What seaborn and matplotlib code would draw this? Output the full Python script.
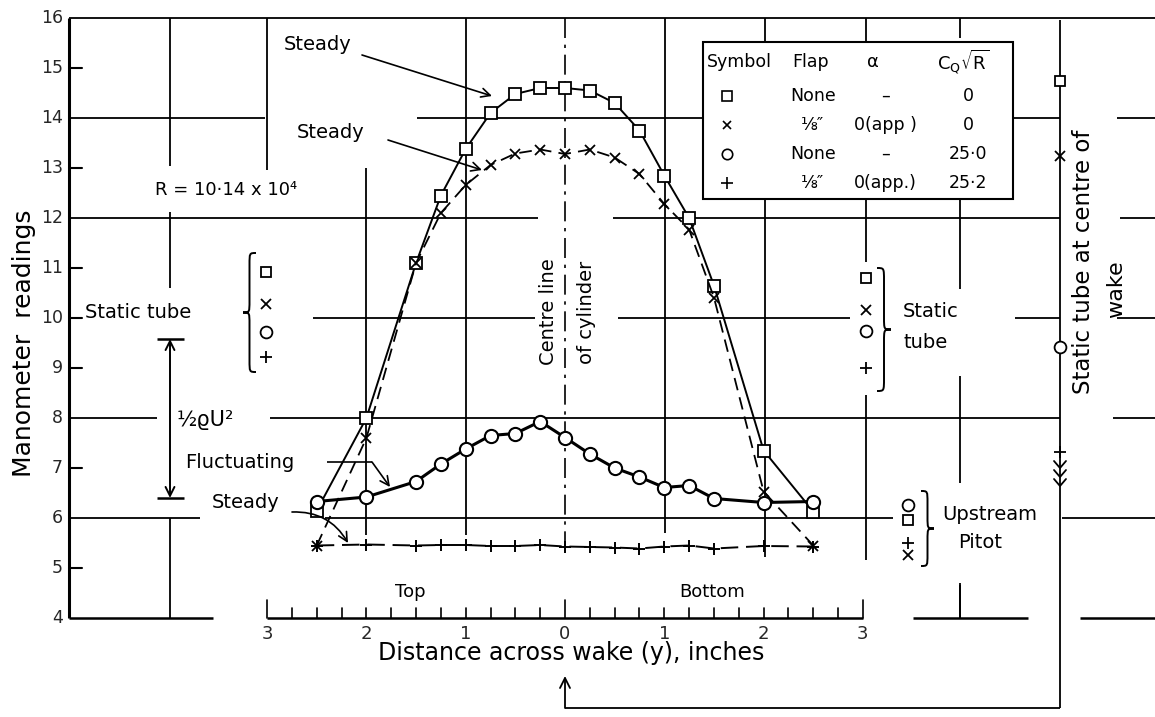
import matplotlib
matplotlib.use("Agg")
import matplotlib.pyplot as plt
import seaborn as sns
import pandas as pd
from matplotlib.path import Path
from matplotlib.patches import PathPatch, Rectangle

# ---------------- data ----------------
y_inches = [-2.5, -2.0, -1.5, -1.25, -1.0, -0.75, -0.5, -0.25, 0.0,
            0.25, 0.5, 0.75, 1.0, 1.25, 1.5, 2.0, 2.5]
square_none_cq0 = [6.15, 8.0, 11.1, 12.45, 13.38, 14.1, 14.48, 14.6, 14.6,
                   14.55, 14.3, 13.75, 12.85, 12.0, 10.65, 7.35, 6.13]
cross_flap_cq0 = [5.45, 7.6, 11.1, 12.1, 12.66, 13.06, 13.29, 13.37, 13.28,
                  13.37, 13.21, 12.88, 12.28, 11.77, 10.41, 6.53, 5.45]
circle_none_cq25 = [6.33, 6.42, 6.73, 7.08, 7.38, 7.65, 7.69, 7.93, 7.61,
                    7.28, 7.0, 6.82, 6.61, 6.65, 6.39, 6.31, 6.33]
plus_flap_cq25 = [5.45, 5.47, 5.45, 5.46, 5.46, 5.44, 5.44, 5.46, 5.43,
                  5.42, 5.41, 5.39, 5.43, 5.45, 5.39, 5.44, 5.43]

# symbol order: square, cross, circle, plus
static_tube_top = [10.93, 10.28, 9.73, 9.22]
static_tube_bottom = [10.8, 10.16, 9.74, 9.0]
static_tube_centre = [14.75, 13.25, 9.42, 7.32]
upstream_pitot = [5.96, 5.27, 6.26, 5.5]

table_flap = ["None", "⅛″", "None", "⅛″"]
table_alpha = ["–", "0(app )", "–", "0(app.)"]
table_cq = ["0", "0", "25·0", "25·2"]

y_ticks = [4, 5, 6, 7, 8, 9, 10, 11, 12, 13, 14, 15, 16]
wake_tick_pos = [-3, -2, -1, 0, 1, 2, 3]
wake_tick_labels = ["3", "2", "1", "0", "1", "2", "3"]

# ---------------- style ----------------
sns.set_style("white")
plt.rcParams["font.family"] = ["DejaVu Sans"]
plt.rcParams["mathtext.fontset"] = "dejavusans"

W, H = 1155, 717
fig = plt.figure(figsize=(W / 100, H / 100), dpi=100)
ax = fig.add_axes([69 / W, (H - 618) / H, (W - 69) / W, 600 / H])


def X(px):
    return (px - 565.0) / 99.3


def V(py):
    return 16.0 - (py - 18.0) / 50.0


ax.set_xlim(X(69), X(1155))
ax.set_ylim(4, 16)
ax.axis("off")

K = "black"
LW = 1.3


def seg(x0, y0, x1, y1, lw=LW, ls="-"):
    ax.plot([X(x0), X(x1)], [V(y0), V(y1)], color=K, lw=lw, ls=ls,
            solid_capstyle="butt", clip_on=False, zorder=1)


def T(px, py, s, size=14, ha="center", va="center", rot=0, **kw):
    ax.text(X(px), V(py), s, fontsize=size, ha=ha, va=va, rotation=rot,
            color=K, clip_on=False, zorder=5, **kw)


# ---------------- frame / broken grid ----------------
seg(69, 18, 69, 618, lw=2.2)
hsegs = {
    18: [(69, 1155)],
    118: [(69, 265), (417, 703), (1013, 1060), (1117, 1155)],
    218: [(69, 538), (613, 1060), (1120, 1155)],
    318: [(313, 535), (618, 850), (1015, 1060), (1117, 1155)],
    418: [(69, 157), (270, 1060), (1113, 1155)],
    518: [(69, 200), (325, 893), (1062, 1155)],
    618: [(69, 213), (267, 863), (913, 1028), (1080, 1155)],
}
for py, lst in hsegs.items():
    for a, b in lst:
        seg(a, py, b, py, lw=1.8 if py == 618 else LW)

vsegs = {
    170: [(18, 166), (212, 288), (518, 618)],
    267: [(18, 170)],
    366: [(168, 535)],
    466: [(18, 535)],
    665: [(18, 533)],
    765: [(18, 42), (199, 557)],
    866: [(18, 42), (199, 262), (395, 560)],
    960: [(18, 38), (199, 289), (376, 483), (583, 618)],
}
for px, lst in vsegs.items():
    for a, b in lst:
        seg(px, a, px, b)

# centre line of cylinder (dash-dot)
seg(565, 18, 565, 555, lw=1.2, ls=(0, (12, 4, 2, 4)))

# y ticks and labels
for v in [5, 7, 9, 10, 11, 13, 15]:
    ax.plot([X(69), X(82)], [v, v], color=K, lw=1.5, clip_on=False)
for v in y_ticks:
    ax.text(X(63), v, str(v), fontsize=12.5, ha="right", va="center",
            clip_on=False)
T(24, 343, "Manometer  readings", size=18, rot=90)

# wake scale ticks (quarter-inch divisions)
for i in range(-12, 13):
    t = i * 0.25
    h = 18 if t in (-3, 0, 3) else 10
    ax.plot([t, t], [4, 4 + h / 50], color=K, lw=1.2, clip_on=False)
for p, lab in zip(wake_tick_pos, wake_tick_labels):
    ax.text(p, V(634), lab, fontsize=13, ha="center", va="center",
            clip_on=False)
T(571, 653, "Distance across wake (y), inches", size=17)
T(410, 592, "Top", size=13)
T(712, 592, "Bottom", size=13)
seg(960, 585, 960, 618)

# ---------------- data series ----------------
df = pd.DataFrame({"y": y_inches, "sq": square_none_cq0,
                   "cr": cross_flap_cq0, "ci": circle_none_cq25,
                   "pl": plus_flap_cq25})
common = dict(ax=ax, color=K, errorbar=None, clip_on=False,
              markeredgecolor=K, zorder=3)
sns.lineplot(data=df, x="y", y="sq", lw=1.4, marker="s", markersize=8,
             markerfacecolor="white", markeredgewidth=1.3, **common)
sns.lineplot(data=df, x="y", y="cr", lw=1.3, linestyle=(0, (7, 4)),
             marker="x", markersize=7.5, markeredgewidth=1.3, **common)
sns.lineplot(data=df, x="y", y="ci", lw=2.2, marker="o", markersize=9.5,
             markerfacecolor="white", markeredgewidth=1.5, **common)
sns.lineplot(data=df, x="y", y="pl", lw=1.4, linestyle=(0, (9, 4)),
             marker="+", markersize=9, markeredgewidth=1.4, **common)

marker_specs = [("s", 7.5, "white"), ("x", 7, "none"), ("o", 8.5, "white"),
                ("+", 9, "none")]


def symbols(px, values):
    for (m, ms, fc), v in zip(marker_specs, values):
        ax.plot([X(px)], [v], marker=m, ms=ms, mfc=fc, mec=K, mew=1.3,
                ls="none", clip_on=False, zorder=4)


# ---------------- braces ----------------
def brace(xe, top, bot, w):
    """curly brace; xe = flat edge (px), w>0 tip to the left, w<0 to the right"""
    m = (top + bot) / 2
    xm = xe - w / 2
    xt = xe - w
    q = abs(w) * 0.9
    pts = [(xe, top), (xm, top), (xm, top), (xm, top + q),
           (xm, m - q),
           (xm, m), (xm, m), (xt, m),
           (xm, m), (xm, m), (xm, m + q),
           (xm, bot - q),
           (xm, bot), (xm, bot), (xe, bot)]
    codes = [Path.MOVETO, Path.CURVE4, Path.CURVE4, Path.CURVE4,
             Path.LINETO,
             Path.CURVE4, Path.CURVE4, Path.CURVE4,
             Path.CURVE4, Path.CURVE4, Path.CURVE4,
             Path.LINETO,
             Path.CURVE4, Path.CURVE4, Path.CURVE4]
    path = Path([(X(a), V(b)) for a, b in pts], codes)
    ax.add_patch(PathPatch(path, fc="none", ec=K, lw=1.4, clip_on=False))


# static tube (top side)
T(138, 313, "Static tube", size=14)
brace(256, 253, 372, 13)
symbols(266, static_tube_top)

# static tube (bottom side)
symbols(866, static_tube_bottom)
brace(877, 268, 391, -14)
T(903, 312, "Static", size=14, ha="left")
T(903, 342, "tube", size=14, ha="left")

# static tube at centre of wake
seg(1060, 20, 1060, 708)
symbols(1060, static_tube_centre)
for yv in (468, 477, 486):
    ax.plot([X(1054), X(1060), X(1066)], [V(yv - 7), V(yv), V(yv - 7)],
            color=K, lw=1.3, clip_on=False)
T(1084, 262, "Static tube at centre of", size=16.5, rot=90)
T(1116, 289, "wake", size=16, rot=90)

# upstream pitot
symbols(908, upstream_pitot)
brace(921, 491, 566, -13)
T(942, 514, "Upstream", size=14, ha="left")
T(958, 543, "Pitot", size=14, ha="left")

# return arrow to centre of scale
seg(1060, 708, 565, 708)
ax.annotate("", xy=(X(565), V(676)), xytext=(X(565), V(708)),
            arrowprops=dict(arrowstyle="->", lw=1.3, color=K,
                            shrinkA=0, shrinkB=0, mutation_scale=18),
            annotation_clip=False)

# half rho U^2 dimension
ax.annotate("", xy=(X(170), V(339)), xytext=(X(170), V(498)),
            arrowprops=dict(arrowstyle="<->", lw=1.4, color=K,
                            shrinkA=0, shrinkB=0, mutation_scale=16),
            annotation_clip=False)
seg(157, 339, 184, 339, lw=1.8)
seg(157, 498, 184, 498, lw=1.8)
T(205, 420, "½ϱU²", size=15)

# ---------------- annotations ----------------
arrow = dict(arrowstyle="->", lw=1.2, color=K, mutation_scale=16,
             shrinkA=0, shrinkB=0)
T(318, 45, "Steady", size=14)
ax.annotate("", xy=(X(492), V(96)), xytext=(X(362), V(55)),
            arrowprops=arrow, annotation_clip=False)
T(331, 133, "Steady", size=14)
ax.annotate("", xy=(X(482), V(170)), xytext=(X(388), V(140)),
            arrowprops=arrow, annotation_clip=False)
T(226, 190, "R = 10·14 x 10⁴", size=13)
T(185, 463, "Fluctuating", size=14, ha="left")
seg(327, 462, 372, 462, lw=1.2)
ax.annotate("", xy=(X(390), V(487)), xytext=(X(372), V(462)),
            arrowprops=arrow, annotation_clip=False)
T(246, 503, "Steady", size=14)
ax.annotate("", xy=(X(348), V(543)), xytext=(X(292), V(512)),
            arrowprops=dict(arrow, connectionstyle="arc3,rad=-0.3"),
            annotation_clip=False)
T(548, 312, "Centre line", size=14, rot=90)
T(587, 312, "of cylinder", size=14, rot=90)

# ---------------- legend table ----------------
ax.add_patch(Rectangle((X(703), V(199)), X(1013) - X(703), V(42) - V(199),
                       fc="white", ec=K, lw=1.5, zorder=4))
seg(703, 80, 1013, 80, lw=2.2)
hy = 62
T(739, hy, "Symbol", size=12.5)
T(811, hy, "Flap", size=12.5)
T(873, hy, "α", size=13)
T(963, hy, r"C$_\mathregular{Q}$$\sqrt{\mathregular{R}}$", size=13)
row_y = [96, 125, 154, 183]
for (m, ms, fc), yy, fl, al, cq in zip(marker_specs, row_y, table_flap,
                                       table_alpha, table_cq):
    ax.plot([X(727)], [V(yy)], marker=m, ms=ms - 1, mfc=fc, mec=K, mew=1.2,
            ls="none", clip_on=False, zorder=6)
    T(813, yy, fl, size=12.5)
    T(885, yy, al, size=12.5)
    T(968, yy, cq, size=12.5)

fig.savefig("out.png", dpi=100, facecolor="white")
